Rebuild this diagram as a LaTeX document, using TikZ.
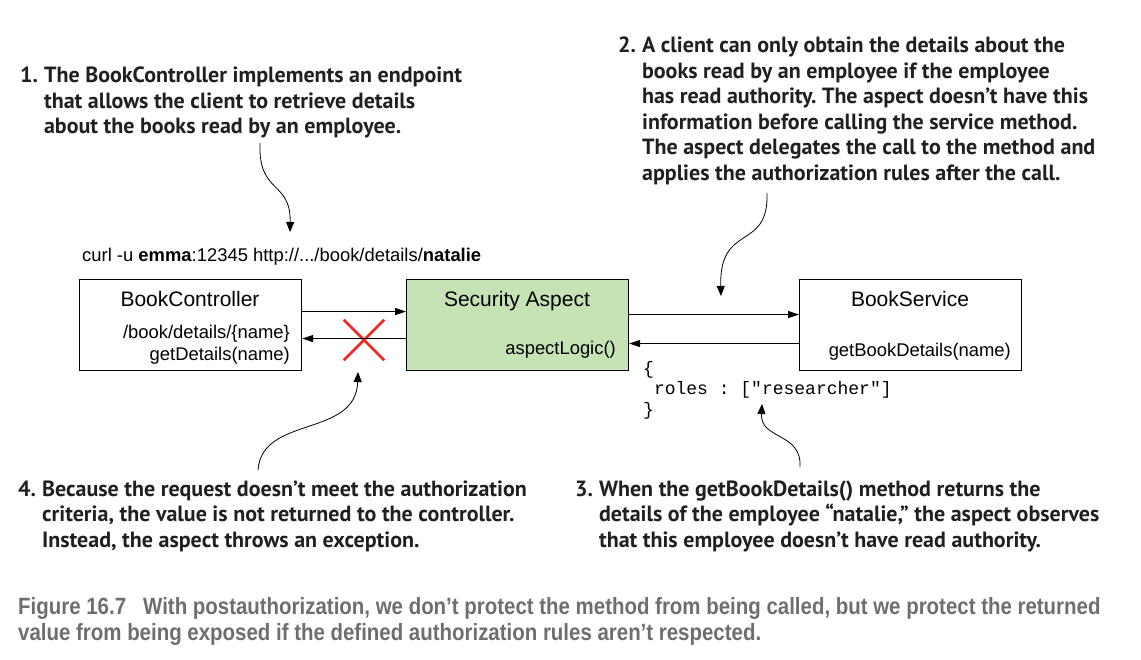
\documentclass[tikz,border=0pt]{standalone}
\usepackage{fontspec}
\setmainfont{Liberation Sans}
\setmonofont{Liberation Mono}
\newfontfamily\notefont{PT Sans}
\newfontfamily\capfont[FakeStretch=0.87]{Liberation Sans}
\usetikzlibrary{arrows.meta, positioning, shapes.misc}
\frenchspacing

\definecolor{aspectgreen}{HTML}{C5E3B5}
\definecolor{crossred}{HTML}{EE2A24}
\definecolor{notetext}{HTML}{231F20}
\definecolor{capgray}{HTML}{6D6E71}

\begin{document}
\begin{tikzpicture}[x=1pt, y=-1pt, >={Triangle[length=11pt,width=7pt]},
	box/.style={draw, line width=1.1pt, minimum width=222pt, minimum height=91pt, inner sep=0pt, anchor=north west},
	title/.style={font=\fontsize{21}{25}\selectfont, anchor=base, inner sep=0pt},
	detail/.style={font=\fontsize{18.4}{22}\selectfont, anchor=base east, inner sep=0pt},
	note/.style={font=\notefont\bfseries\fontsize{22}{25.5}\selectfont, text=notetext, anchor=base west, inner sep=0pt},
	call/.style={->, line width=1.1pt},
	hint/.style={-{Triangle[length=10pt,width=8pt]}, line width=0.8pt}]
	
	\path [fill=white, use as bounding box] (0,0) rectangle (1141,660);
	
	\node (note1) [note] at (20,83) {\begin{tabular}[t]{@{}l@{\hspace{6pt}}l@{}}
		1. & The BookController implements an endpoint\\
		& that allows the client to retrieve details\\
		& about the books read by an employee.
	\end{tabular}};
	\node (note2) [note] at (618,53) {\begin{tabular}[t]{@{}l@{\hspace{6pt}}l@{}}
		2. & A client can only obtain the details about the\\
		& books read by an employee if the employee\\
		& has read authority. The aspect doesn’t have this\\
		& information before calling the service method.\\
		& The aspect delegates the call to the method and\\
		& applies the authorization rules after the call.
	\end{tabular}};
	\node (note4) [note] at (18,496) {\begin{tabular}[t]{@{}l@{\hspace{6pt}}l@{}}
		4. & Because the request doesn’t meet the authorization\\
		& criteria, the value is not returned to the controller.\\
		& Instead, the aspect throws an exception.
	\end{tabular}};
	\node (note3) [note] at (575,496) {\begin{tabular}[t]{@{}l@{\hspace{6pt}}l@{}}
		3. & When the getBookDetails() method returns the\\
		& details of the employee “natalie,” the aspect observes\\
		& that this employee doesn’t have read authority.
	\end{tabular}};
	
	\node (curl) [detail, anchor=base west] at (82,262) {curl -u \textbf{emma}:12345 http://.../book/details/\textbf{natalie}};
	
	\node (ctrl) [box] at (79,279) {};
	\node (aspect) [box, fill=aspectgreen] at (406,279) {};
	\node (service) [box] at (799,279) {};
	
	\node (ctrltitle) [title] at (190,307) {BookController};
	\node (ctrlpath) [detail] at (290,339) {/book/details/\{name\}};
	\node (ctrlcall) [detail] at (290,360) {getDetails(name)};
	\node (aspecttitle) [title] at (517,307) {Security Aspect};
	\node (aspectcall) [detail] at (616,355) {aspectLogic()};
	\node (servicetitle) [title] at (910,307) {BookService};
	\node (servicecall) [detail] at (1011,356) {getBookDetails(name)};
	
	\node (roles) [anchor=base west, inner sep=0pt, font=\ttfamily\fontsize{18}{20.5}\selectfont] at (643,374) {\begin{tabular}[t]{@{}l@{}}
		\{\\
		\ roles : ["researcher"]\\
		\}
	\end{tabular}};
	
	\node (cross) [cross out, draw=crossred, line width=2.6pt, minimum size=38pt, inner sep=0pt] at (364,340) {};
	
	\draw [call] ([yshift=13.5pt]ctrl.east) -- ([yshift=13.5pt]ctrl.east -| aspect.west);
	\draw [call] ([yshift=-13.5pt]aspect.west) -- ([yshift=-13.5pt]aspect.west -| ctrl.east);
	\draw [call] ([yshift=10.5pt]aspect.east) -- ([yshift=10.5pt]aspect.east -| service.west);
	\draw [call] ([yshift=-18.5pt]service.west) -- ([yshift=-18.5pt]service.west -| aspect.east);
	
	\coordinate (tail1) at (260,143);
	\coordinate (tip1) at (290,232);
	\coordinate (tail2) at (767,193);
	\coordinate (tip2) at (721,296);
	\coordinate (tail3) at (800,467);
	\coordinate (tip3) at (762,404);
	\coordinate (tail4) at (258,470);
	\coordinate (tip4) at (358,372);
	
	\draw [hint] (tail1) .. controls (258,195) and (291,180) .. (tip1);
	\draw [hint] (tail2) .. controls (769,252) and (719,222) .. (tip2);
	\draw [hint] (tail3) .. controls (802,432) and (760,440) .. (tip3);
	\draw [hint] (tail4) .. controls (262,415) and (356,438) .. (tip4);
	
	\node (caption) [anchor=base west, inner sep=0pt, text=capgray, font=\capfont\bfseries\fontsize{23.5}{26.5}\selectfont] at (18,614) {\begin{tabular}[t]{@{}l@{}}
		Figure 16.7\hspace{17pt}With postauthorization, we don’t protect the method from being called, but we protect the returned\\
		value from being exposed if the defined authorization rules aren’t respected.
	\end{tabular}};
	
\end{tikzpicture}
\end{document}
